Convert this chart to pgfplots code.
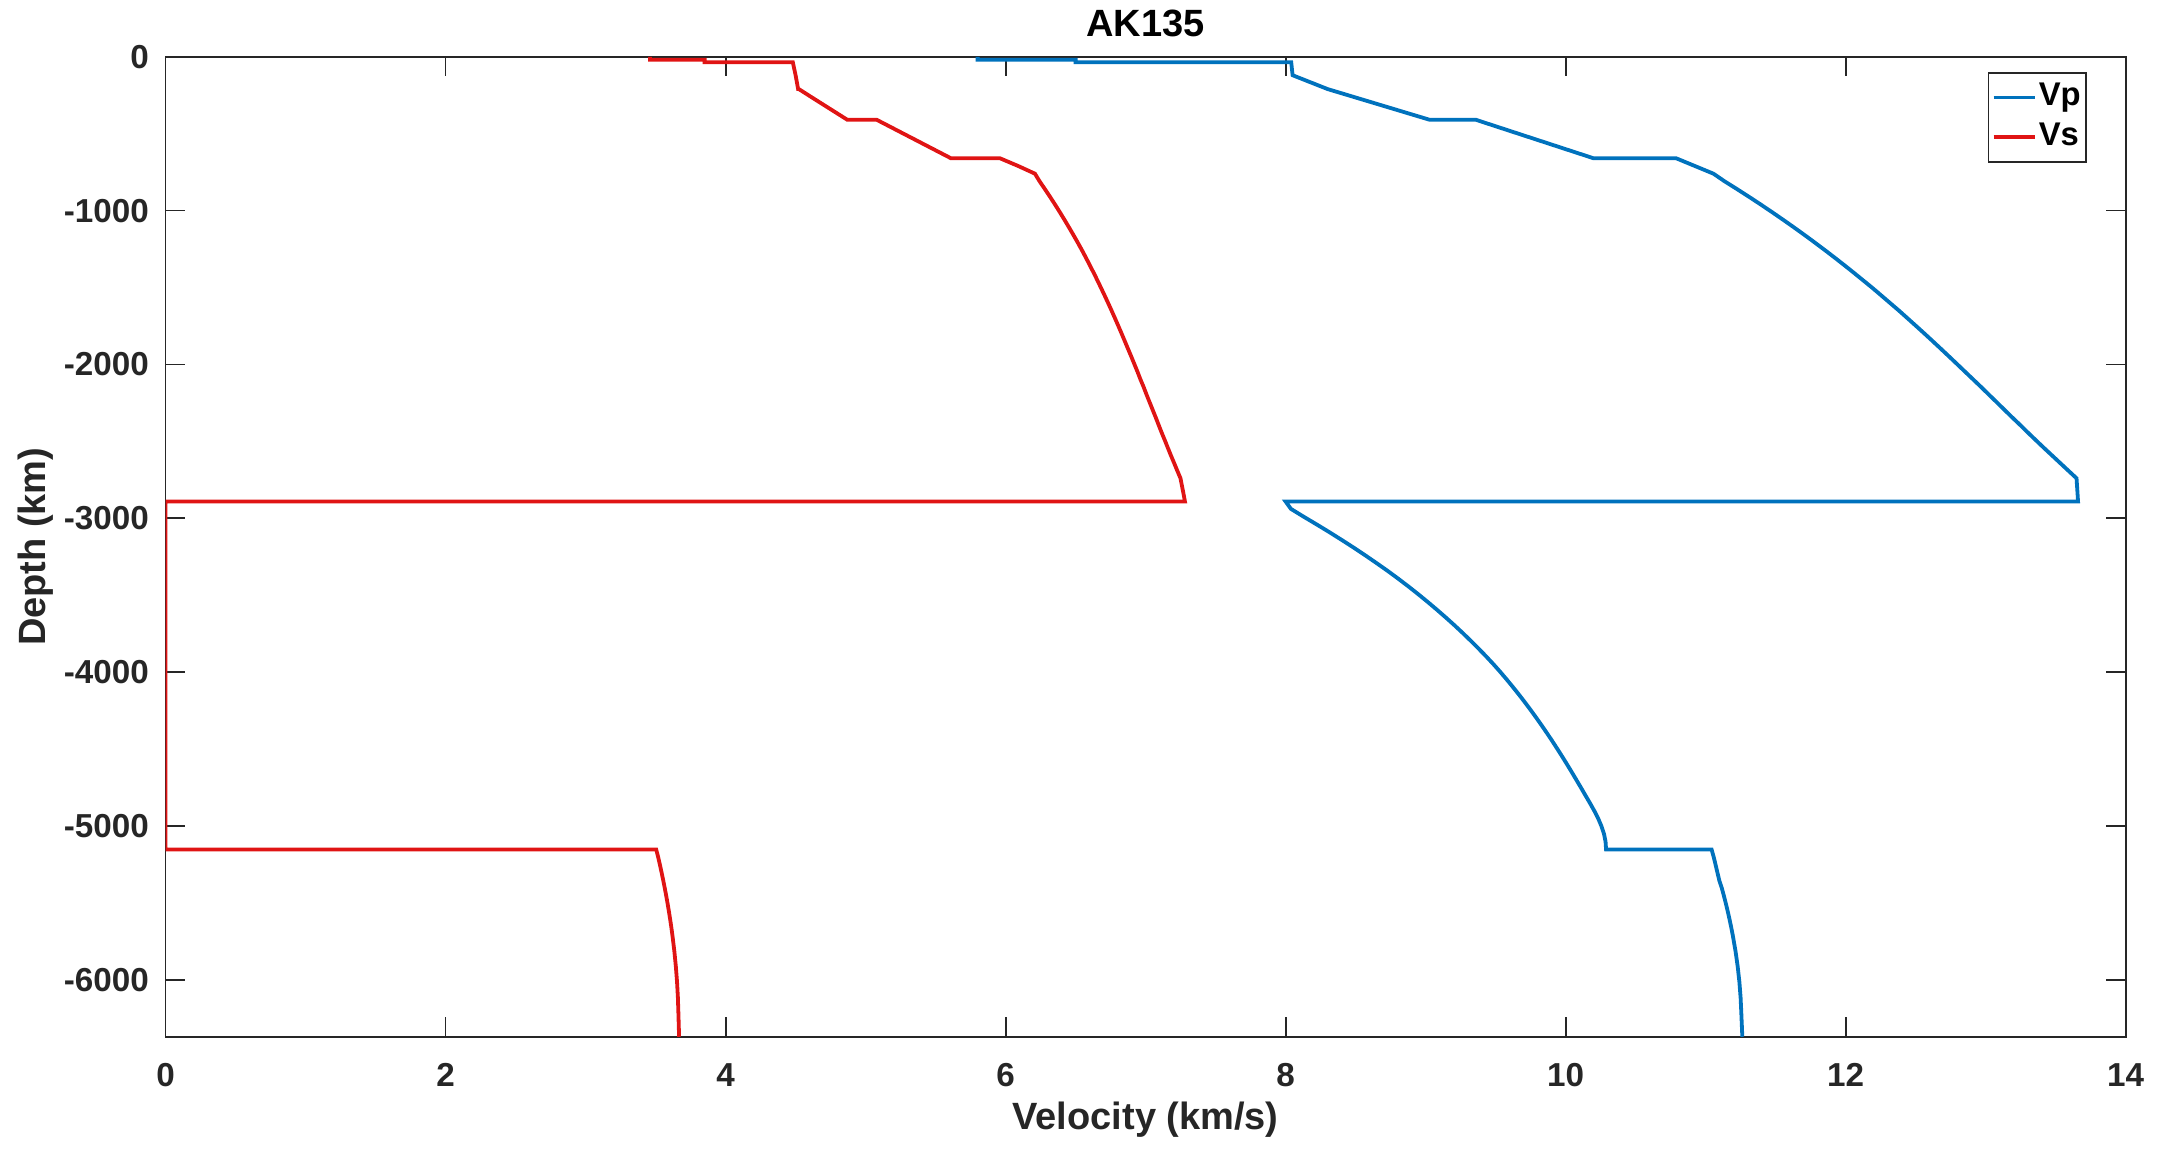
\documentclass[border=0pt]{standalone}
\usepackage{fontspec}
\setmainfont{Liberation Sans}
\usepackage{pgfplots}
\pgfplotsset{compat=1.18}
\usepackage{pgfplotstable}
\definecolor{mblue}{rgb}{0,0.447,0.741}
\definecolor{mred}{rgb}{0.88,0.08,0.08}
\definecolor{axgray}{rgb}{0.15,0.15,0.15}
% depth (km), Vp (km/s), Vs (km/s)  -- AK135
\pgfplotstableread{
d vp vs
0 5.8000 3.4600
20 5.8000 3.4600
20 6.5000 3.8500
35 6.5000 3.8500
35 8.0400 4.4800
77.5 8.0450 4.4900
120 8.0500 4.5000
165 8.1750 4.5090
210 8.3000 4.5180
210 8.3000 4.5230
260 8.4825 4.6090
310 8.6650 4.6960
360 8.8475 4.7830
410 9.0300 4.8700
410 9.3600 5.0800
460 9.5280 5.1860
510 9.6960 5.2920
560 9.8640 5.3980
610 10.0320 5.5040
660 10.2000 5.6100
660 10.7900 5.9600
710 10.9229 6.0897
760 11.0558 6.2095
809.5 11.1353 6.2426
859 11.2221 6.2798
908.5 11.3068 6.3160
958 11.3896 6.3512
1007.5 11.4705 6.3854
1057 11.5495 6.4187
1106.5 11.6269 6.4510
1156 11.7026 6.4828
1205.5 11.7766 6.5138
1255 11.8491 6.5439
1304.5 11.9200 6.5727
1354 11.9895 6.6008
1403.5 12.0577 6.6285
1453 12.1245 6.6555
1502.5 12.1912 6.6815
1552 12.2550 6.7073
1601.5 12.3185 6.7326
1651 12.3819 6.7573
1700.5 12.4426 6.7815
1750 12.5031 6.8052
1799.5 12.5631 6.8286
1849 12.6221 6.8515
1898.5 12.6804 6.8742
1948 12.7382 6.8972
1997.5 12.7956 6.9194
2047 12.8526 6.9418
2096.5 12.9096 6.9627
2146 12.9668 6.9855
2195.5 13.0222 7.0063
2245 13.0783 7.0281
2294.5 13.1336 7.0500
2344 13.1894 7.0720
2393.5 13.2465 7.0931
2443 13.3018 7.1144
2492.5 13.3585 7.1369
2542 13.4156 7.1586
2591.5 13.4741 7.1807
2640 13.5312 7.2031
2690 13.5900 7.2258
2740 13.6494 7.2490
2789.67 13.6530 7.2597
2839.33 13.6566 7.2704
2891.5 13.6602 7.2811
2891.5 8.0000 0
2939.33 8.0382 0
2989.66 8.1283 0
3039.99 8.2213 0
3090.32 8.3122 0
3140.66 8.4001 0
3190.99 8.4861 0
3241.32 8.5692 0
3291.65 8.6496 0
3341.98 8.7283 0
3392.31 8.8036 0
3442.64 8.8761 0
3492.97 8.9461 0
3543.30 9.0138 0
3593.64 9.0792 0
3643.97 9.1426 0
3694.30 9.2042 0
3744.63 9.2634 0
3794.96 9.3205 0
3845.29 9.3760 0
3895.62 9.4297 0
3945.95 9.4814 0
3996.28 9.5306 0
4046.62 9.5777 0
4096.95 9.6232 0
4147.28 9.6673 0
4197.61 9.7100 0
4247.94 9.7513 0
4298.27 9.7914 0
4348.60 9.8304 0
4398.93 9.8682 0
4449.26 9.9051 0
4499.60 9.9410 0
4549.93 9.9761 0
4600.26 10.0103 0
4650.59 10.0439 0
4700.92 10.0768 0
4751.25 10.1095 0
4801.58 10.1415 0
4851.91 10.1739 0
4902.24 10.2049 0
4952.58 10.2329 0
5002.91 10.2565 0
5053.24 10.2745 0
5103.57 10.2854 0
5153.5 10.2890 0
5153.5 11.0427 3.5043
5204.61 11.0585 3.5187
5255.32 11.0718 3.5314
5306.04 11.0850 3.5435
5356.75 11.0983 3.5551
5407.46 11.1166 3.5661
5458.17 11.1316 3.5765
5508.89 11.1457 3.5864
5559.61 11.1590 3.5957
5610.32 11.1715 3.6044
5661.04 11.1832 3.6126
5711.75 11.1941 3.6202
5813.17 11.2134 3.6337
5914.59 11.2292 3.6447
6016.01 11.2414 3.6533
6117.43 11.2500 3.6593
6218.85 11.2551 3.6629
6371 11.2622 3.6678
}\ak
\begin{document}
\begin{tikzpicture}
\begin{axis}[
  scale only axis,
  width=490pt, height=245pt,
  xmin=0, xmax=14, ymin=-6371, ymax=0,
  xtick={0,2,...,14},
  ytick={-6000,-5000,...,0},
  scaled y ticks=false,
  /pgf/number format/1000 sep={},
  /pgf/number format/assume math mode=true,
  tick align=inside, tick pos=both,
  major tick length=4.9pt,
  axis line style={axgray, line width=0.45pt},
  every tick/.style={axgray, line width=0.45pt},
  tick label style={font=\bfseries\fontsize{8.3}{10}\selectfont, text=axgray, inner sep=0pt},
  xticklabel style={anchor=center, yshift=-9.6pt},
  yticklabel style={anchor=east, xshift=-4pt},
  xlabel={Velocity (km/s)},
  ylabel={Depth (km)},
  label style={font=\bfseries\fontsize{9.5}{11}\selectfont, text=axgray},
  xlabel style={at={(axis description cs:0.5,-0.0841)}, anchor=center},
  ylabel style={at={(axis description cs:-0.0661,0.5)}, anchor=center},
  legend style={at={(rel axis cs:1,1)}, xshift=-9.6pt, yshift=-3.8pt, anchor=north east,
    draw=axgray, line width=0.45pt, font=\bfseries\fontsize{8.2}{9.8}\selectfont,
    inner xsep=0.8pt, inner ysep=0.6pt, row sep=-1.2pt,
    nodes={inner xsep=0.6pt}},
  legend cell align=left,
  legend image code/.code={\draw[#1, line width=0.95pt] (0cm,0cm) -- (0.36cm,0cm);},
  clip mode=individual,
]
\addplot[mblue, line width=0.95pt] table[x=vp, y expr=-\thisrow{d}] {\ak};
\addlegendentry{Vp}
\addplot[mred, line width=0.95pt] table[x=vs, y expr=-\thisrow{d}] {\ak};
\addlegendentry{Vs}
\node[font=\bfseries\fontsize{9.5}{11}\selectfont, anchor=center, inner sep=0pt] at ([yshift=8.3pt]rel axis cs:0.5,1) {AK135};
\end{axis}
\pgfresetboundingbox
\path[use as bounding box] (current axis.south west) ++(-41.4pt,-28.1pt) rectangle ([xshift=11.6pt,yshift=14.2pt]current axis.north east);
\end{tikzpicture}
\end{document}
